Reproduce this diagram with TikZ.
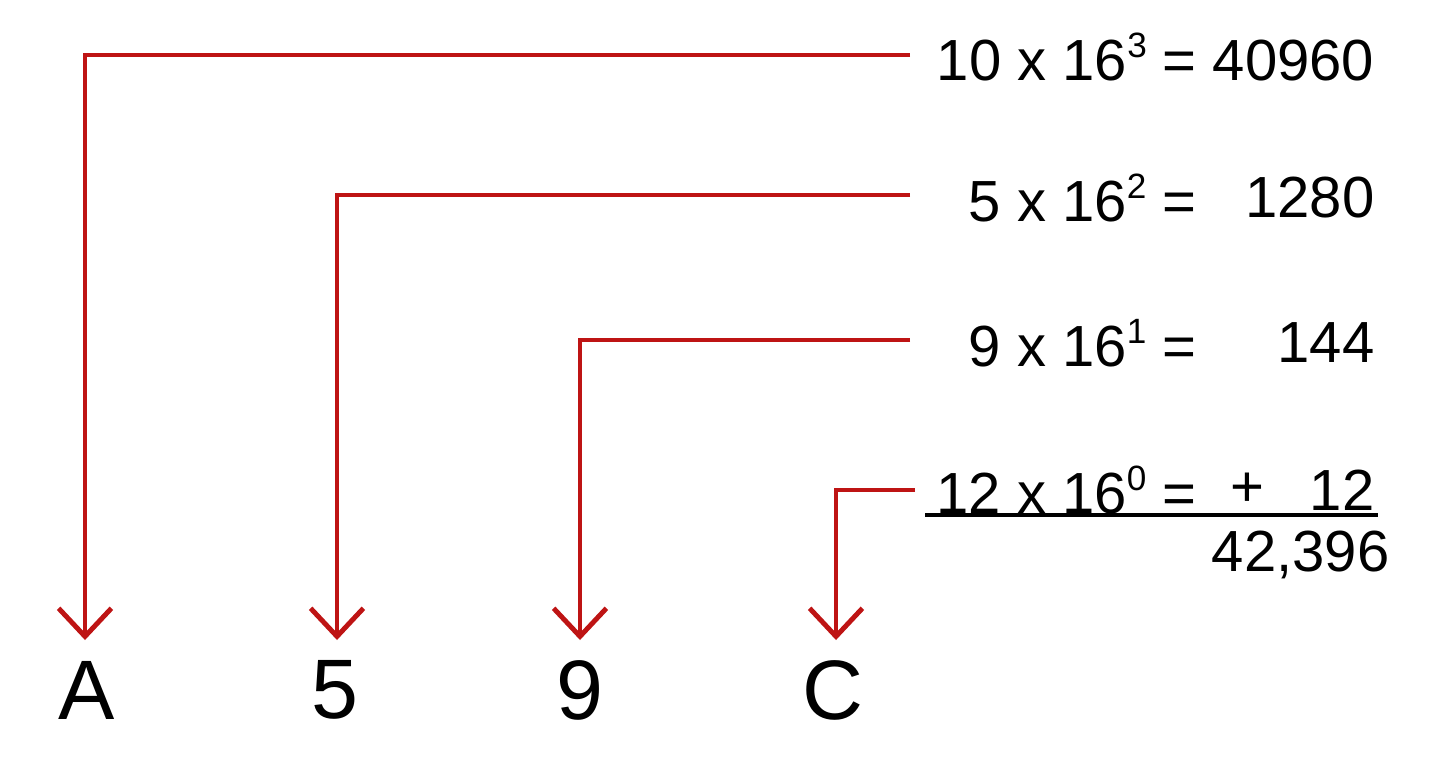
\documentclass[tikz,border=0pt]{standalone}
\usepackage{fontspec}
\setmainfont{Liberation Sans}
\usetikzlibrary{arrows.meta}
\definecolor{lred}{RGB}{190,20,20}
\newcommand{\sexp}[1]{\raisebox{0.75ex}{\fontsize{10}{12}\selectfont #1}}
\begin{document}
\begin{tikzpicture}[x=0.01cm,y=-0.01cm,
  conn/.style={draw=lred,line width=1.4pt,-{Straight Barb[length=8pt,width=15pt,line width=1.4pt]}},
  eq/.style={font=\fontsize{16.5}{19}\selectfont,inner sep=0pt,anchor=east},
  let/.style={font=\fontsize{24}{28}\selectfont,inner sep=0pt}]
\useasboundingbox (0,0) rectangle (1440,757);
\node[let] (A) at (87,690) {A};
\node[let] (B) at (335,690) {5};
\node[let] (C) at (580,690) {9};
\node[let] (D) at (833,690) {C};
\node[eq] (e1) at (1375,57) {10 x 16\sexp{3} = 40960};
\node[eq] (e2) at (1197,198) {5 x 16\sexp{2} =};
\node[eq] (n2) at (1375,198) {1280};
\node[eq] (e3) at (1197,343) {9 x 16\sexp{1} =};
\node[eq] (n3) at (1375,343) {144};
\node[eq] (e4) at (1197,490) {12 x 16\sexp{0} =};
\node[eq] (p4) at (1265,490) {+};
\node[eq] (n4) at (1375,490) {12};
\node[eq] (tot) at (1390,555) {42,396};
\coordinate (u1) at (925,515);
\coordinate (u2) at (1378,515);
\draw[line width=1.4pt] (u1) -- (u2);
\coordinate (t1) at (85,640);
\coordinate (t2) at (337,640);
\coordinate (t3) at (580,640);
\coordinate (t4) at (836,640);
\draw[conn] (910,55) -| (t1);
\draw[conn] (910,195) -| (t2);
\draw[conn] (910,340) -| (t3);
\draw[conn] (915,490) -| (t4);
\end{tikzpicture}
\end{document}
